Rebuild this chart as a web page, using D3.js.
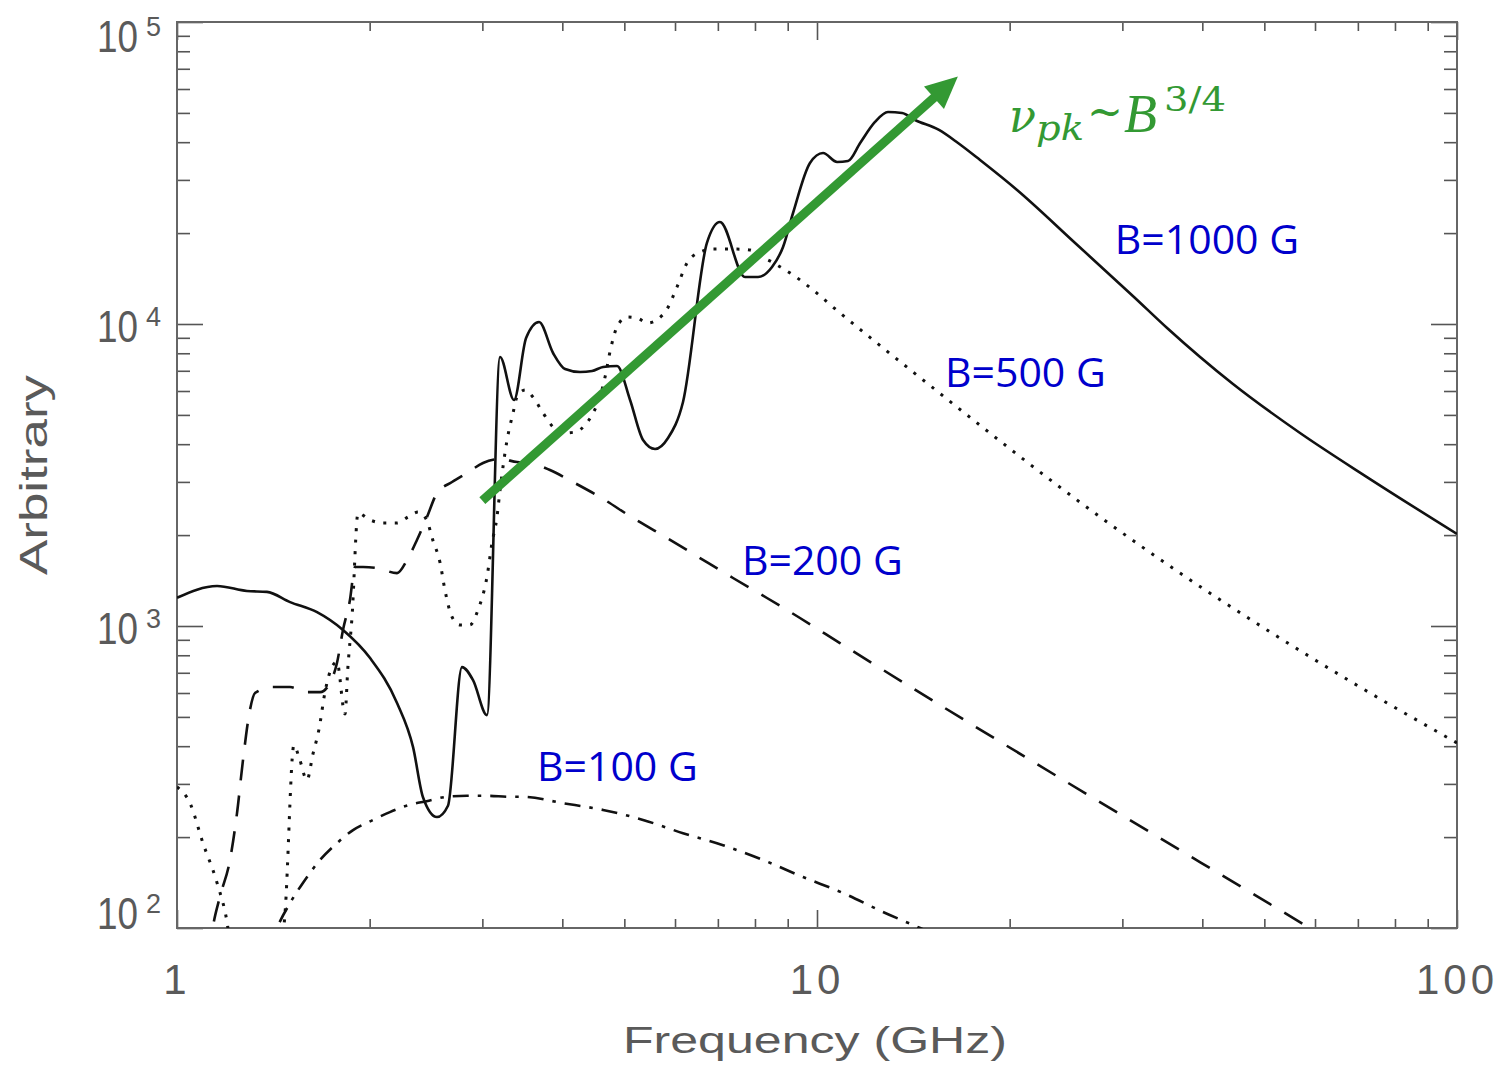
<!DOCTYPE html>
<html>
<head>
<meta charset="utf-8">
<title>Spectra vs B</title>
<script src="https://cdn.jsdelivr.net/npm/d3@7"></script>
<style>
  body { margin: 0; background: #fff; }
  .tick line { stroke: #555; stroke-width: 1.6; }
  .tick text { display: none; }
</style>
</head>
<body>
<div id="chart"></div>
<script>
// spectra: [frequency GHz, arbitrary units]
var b1000 = [[1.0,1240],[1.155,1357],[1.286,1306],[1.382,1297],[1.502,1200],[1.655,1111],[1.817,970],
  [2.003,783],[2.207,556],[2.338,397],[2.423,271],[2.548,233],[2.651,254],[2.788,731],[2.901,662],
  [3.05,507],[3.197,7777],[3.362,5603],[3.511,8986],[3.679,10150],[3.869,8017],[4.04,7096],[4.264,6934],
  [4.452,6988],[4.632,7203],[4.87,7261],[5.104,5603],[5.348,4128],[5.584,3855],[5.851,4193],[6.175,5518],
  [6.73,18547],[7.054,21765],[7.718,14304],[8.088,14304],[8.506,15443],[8.85,17990],[9.174,23310],
  [9.75,34130],[10.22,36830],[10.75,34390],[11.18,34650],[11.68,39740],[12.32,46660],[12.91,50350],
  [13.58,49970],[14.23,47370],[15.51,43900],[16.61,39740],[17.98,34910],[20.54,27780],[25.31,18550],
  [31.28,12290],[35.24,9700],[44.67,6328],[56.85,4356],[72.33,3113],[100,2017]];

var b500 = [[1.0,293],[1.048,259],[1.098,191],[1.155,141],[1.197,105],[1.22,80],[1.45,80],[1.475,112],
  [1.523,403],[1.551,368],[1.596,309],[1.631,377],[1.667,456],[1.703,604],[1.753,743],[1.778,760],
  [1.83,511],[1.849,726],[1.877,1071],[1.918,2366],[2.003,2244],[2.098,2193],[2.207,2193],[2.296,2296],
  [2.38,2384],[2.455,2244],[2.51,1927],[2.577,1617],[2.622,1316],[2.69,1071],[2.769,1008],[2.868,1008],
  [2.953,1130],[3.05,1453],[3.106,1883],[3.162,2296],[3.197,2820],[3.279,4128],[3.35,5072],[3.398,5730],
  [3.498,6046],[3.599,5730],[3.732,5072],[3.869,4560],[4.01,4355],[4.187,4388],[4.341,4628],[4.467,5072],
  [4.58,5730],[4.665,6677],[4.755,8200],[4.87,9772],[5.048,10550],[5.233,10470],[5.444,10076],
  [5.645,10390],[5.831,11210],[6.043,13260],[6.265,15920],[6.517,17180],[6.9,17700],[7.5,17700],
  [7.859,17580],[8.204,16670],[8.506,16050],[8.818,15320],[9.174,14530],[9.857,12960],[10.59,11380],
  [12.24,8851],[14.13,6934],[28.39,2210],[36.92,1497],[50.49,970],[68.79,648],[100,410]];

var b200 = [[1.12,80],[1.138,101],[1.167,127],[1.21,168],[1.241,240],[1.268,360],[1.3,527],[1.324,600],
  [1.413,628],[1.502,628],[1.596,604],[1.673,604],[1.734,648],[1.778,754],[1.817,970],[1.863,1219],
  [1.897,1568],[1.953,1568],[2.054,1556],[2.207,1497],[2.288,1654],[2.371,1927],[2.458,2296],[2.549,2756],
  [2.69,2997],[2.839,3210],[3.007,3464],[3.197,3571],[3.398,3491],[3.561,3464],[3.826,3284],[4.156,2997],
  [4.58,2674],[5.158,2278],[5.831,1956],[6.565,1679],[7.392,1442],[8.353,1238],[9.406,1063],[10.86,878],
  [56.23,106],[100,51]];

var b100 = [[1.38,80],[1.433,100],[1.502,121],[1.573,141],[1.673,168],[1.778,191],[1.884,211],[2.025,228],
  [2.151,242],[2.312,256],[2.455,263],[2.642,272],[2.839,274],[3.05,274],[3.314,272],[3.472,272],
  [4.01,259],[4.632,246],[5.348,228],[6.175,206],[7.131,188],[8.234,168],[9.51,147.5],[10.98,130.6],
  [12.68,113],[14.49,100],[20,74]];

// axes
var xMajor = [1, 10, 100],
    xMinor = [2,3,4,5,6,7,8,9,20,30,40,50,60,70,80,90],
    yMajor = [1e2, 1e3, 1e4, 1e5],
    yExp = ["2", "3", "4", "5"],
    yMinor = [200,300,400,500,600,700,800,900,2000,3000,4000,5000,6000,7000,8000,9000,
              20000,30000,40000,50000,60000,70000,80000,90000];

// annotations
var curveNames = ["B=1000 G", "B=500 G", "B=200 G", "B=100 G"],
    curveNameAt = [[29.2,17060],[15.85,6185],[7.635,1476],[3.652,307]],
    arrowFrom = [3.0, 2600],
    arrowTo = [16.6, 66000];

var total_width = 1508, total_height = 1067,
    plot = {left: 177, right: 1457, top: 22, bottom: 928};

var svg = d3.select("#chart").append("svg")
    .attr("width", total_width)
    .attr("height", total_height)
    .style("font-family", "'Liberation Sans', Arial, sans-serif");

var x = d3.scaleLog().domain([1, 100]).range([plot.left, plot.right]);
var y = d3.scaleLog().domain([100, 1e5]).range([plot.bottom, plot.top]);

svg.append("clipPath").attr("id", "clip")
  .append("rect")
    .attr("x", plot.left).attr("y", plot.top)
    .attr("width", plot.right - plot.left)
    .attr("height", plot.bottom - plot.top);

// tick marks on all four sides, pointing inward
function ticks(axis, tx, ty) {
  var g = svg.append("g").attr("transform", "translate(" + tx + "," + ty + ")").call(axis);
  g.select(".domain").remove();
}
ticks(d3.axisBottom(x).tickValues(xMinor).tickSize(-9).tickFormat(""), 0, plot.bottom);
ticks(d3.axisBottom(x).tickValues(xMajor).tickSize(-18).tickFormat(""), 0, plot.bottom);
ticks(d3.axisTop(x).tickValues(xMinor).tickSize(-9).tickFormat(""), 0, plot.top);
ticks(d3.axisTop(x).tickValues(xMajor).tickSize(-18).tickFormat(""), 0, plot.top);
ticks(d3.axisLeft(y).tickValues(yMinor).tickSize(-13).tickFormat(""), plot.left, 0);
ticks(d3.axisLeft(y).tickValues(yMajor).tickSize(-26).tickFormat(""), plot.left, 0);
ticks(d3.axisRight(y).tickValues(yMinor).tickSize(-13).tickFormat(""), plot.right, 0);
ticks(d3.axisRight(y).tickValues(yMajor).tickSize(-26).tickFormat(""), plot.right, 0);

svg.append("rect")
    .attr("x", plot.left).attr("y", plot.top)
    .attr("width", plot.right - plot.left)
    .attr("height", plot.bottom - plot.top)
    .attr("fill", "none")
    .attr("stroke", "#666")
    .attr("stroke-width", 2);

// tick labels
svg.append("g").selectAll("text")
  .data(xMajor)
  .enter().append("text")
    .attr("x", function(d){ return x(d); })
    .attr("y", 994)
    .attr("text-anchor", "middle")
    .attr("font-size", 42)
    .attr("letter-spacing", 4)
    .attr("fill", "#5a5a5a")
    .text(function(d){ return String(d); });

var ylab = svg.append("g").selectAll("g")
  .data(yMajor)
  .enter().append("g")
    .attr("transform", function(d){
      var c = Math.max(plot.top + 14, Math.min(plot.bottom - 15, y(d) + 2));
      return "translate(0," + (c + 16) + ")";
    });
ylab.append("text")
    .attr("x", 97)
    .attr("font-size", 45)
    .attr("textLength", 41)
    .attr("lengthAdjust", "spacingAndGlyphs")
    .attr("fill", "#5a5a5a")
    .text("10");
ylab.append("text")
    .attr("x", 146)
    .attr("y", -16)
    .attr("font-size", 27)
    .attr("fill", "#5a5a5a")
    .text(function(d, i){ return yExp[i]; });

// axis titles
svg.append("text")
    .attr("x", 623).attr("y", 1053)
    .attr("font-size", 37)
    .attr("textLength", 384)
    .attr("lengthAdjust", "spacingAndGlyphs")
    .attr("fill", "#5a5a5a")
    .text("Frequency (GHz)");

svg.append("text")
    .attr("transform", "translate(47,575) rotate(-90)")
    .attr("font-size", 38)
    .attr("textLength", 200)
    .attr("lengthAdjust", "spacingAndGlyphs")
    .attr("fill", "#5a5a5a")
    .text("Arbitrary");

// spectra
var line = d3.line()
    .curve(d3.curveMonotoneX)
    .x(function(d){ return x(d[0]); })
    .y(function(d){ return y(d[1]); });

var curves = svg.append("g").attr("clip-path", "url(#clip)");
var series = [
  {data: b1000, dash: null, w: 2.6},
  {data: b500, dash: "3,8.5", w: 3},
  {data: b200, dash: "21,15", w: 2.6},
  {data: b100, dash: "16,9,3.5,9", w: 2.6}
];
curves.selectAll("path")
  .data(series)
  .enter().append("path")
    .attr("d", function(d){ return line(d.data); })
    .attr("fill", "none")
    .attr("stroke", "#111")
    .attr("stroke-width", function(d){ return d.w; })
    .attr("stroke-dasharray", function(d){ return d.dash; })
    .attr("stroke-linejoin", "round");

// curve names
svg.append("g").selectAll("text")
  .data(curveNames)
  .enter().append("text")
    .attr("x", function(d, i){ return x(curveNameAt[i][0]); })
    .attr("y", function(d, i){ return y(curveNameAt[i][1]); })
    .attr("font-family", "'Open Sans', 'Noto Sans', sans-serif")
    .attr("font-size", 41)
    .attr("fill", "#0000cc")
    .text(function(d){ return d; });

// green arrow
var green = "#339933";
var x0 = x(arrowFrom[0]), y0 = y(arrowFrom[1]),
    x1 = x(arrowTo[0]), y1 = y(arrowTo[1]);
var ang = Math.atan2(y1 - y0, x1 - x0),
    headLen = 32, headHalf = 15;
var bx = x1 - headLen * Math.cos(ang), by = y1 - headLen * Math.sin(ang);
svg.append("line")
    .attr("x1", x0).attr("y1", y0)
    .attr("x2", bx + 2 * Math.cos(ang)).attr("y2", by + 2 * Math.sin(ang))
    .attr("stroke", green)
    .attr("stroke-width", 9);
svg.append("path")
    .attr("d", "M" + x1 + "," + y1 +
      "L" + (bx - headHalf * Math.sin(ang)) + "," + (by + headHalf * Math.cos(ang)) +
      "L" + (bx + headHalf * Math.sin(ang)) + "," + (by - headHalf * Math.cos(ang)) + "Z")
    .attr("fill", green);

// nu_pk ~ B^(3/4)
var eq = svg.append("g")
    .attr("fill", green)
    .attr("font-family", "'DejaVu Serif', 'Liberation Serif', serif");
eq.append("text").attr("x", 1009).attr("y", 132).attr("font-size", 46).attr("font-style", "italic")
    .attr("textLength", 27).attr("lengthAdjust", "spacingAndGlyphs").text("ν");
eq.append("text").attr("x", 1036).attr("y", 140).attr("font-size", 36).attr("font-style", "italic")
    .attr("textLength", 48).attr("lengthAdjust", "spacingAndGlyphs").text("pk");
eq.append("text").attr("x", 1087).attr("y", 127).attr("font-size", 46)
    .attr("textLength", 36).attr("lengthAdjust", "spacingAndGlyphs").text("∼");
eq.append("text").attr("x", 1124).attr("y", 132).attr("font-size", 54).attr("font-style", "italic")
    .attr("font-family", "'Liberation Serif', serif").text("B");
eq.append("text").attr("x", 1164).attr("y", 111).attr("font-size", 34)
    .attr("textLength", 62).attr("lengthAdjust", "spacingAndGlyphs").text("3/4");
</script>
</body>
</html>
